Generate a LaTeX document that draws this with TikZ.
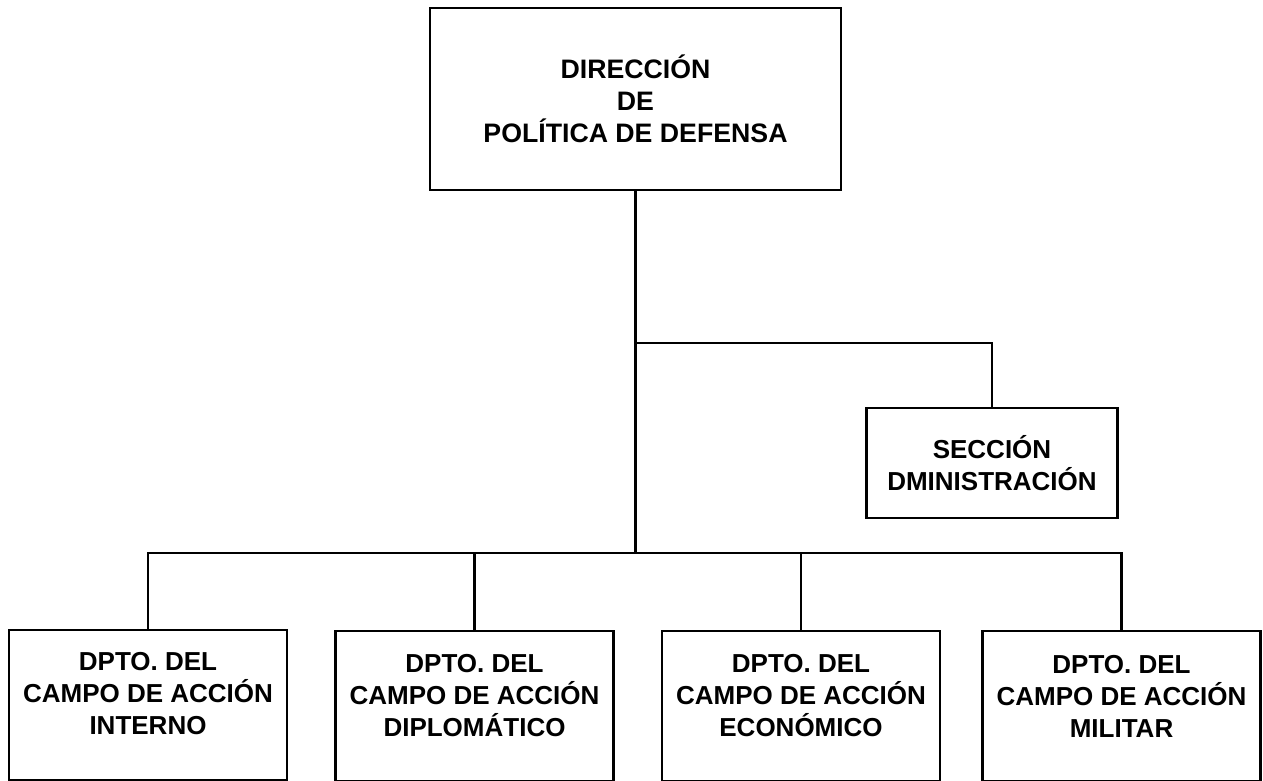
\documentclass[tikz,border=0pt]{standalone}
\usepackage{fontspec}
\setmainfont{Liberation Sans}
\usetikzlibrary{positioning}

\tikzset{
  orgbox/.style={draw,line width=2.8pt,inner sep=0pt,align=center,
    font=\bfseries\fontsize{26}{32}\selectfont},
  dpto/.style={orgbox,minimum width=278pt,minimum height=150pt},
  dptotext/.style={align=center,inner sep=0pt,
    font=\bfseries\fontsize{26}{32}\selectfont},
  link/.style={line width=2.5pt}
}

\begin{document}
\begin{tikzpicture}[x=1pt,y=-1pt]
  \useasboundingbox (0,0) rectangle (1263,781);

  \node [orgbox,minimum width=411pt,minimum height=182pt,
    font=\bfseries\fontsize{26.7}{32}\selectfont] (direccion) at (635.5,99)
    {DIRECCIÓN\\DE\\POLÍTICA DE DEFENSA};
  \node [orgbox,minimum width=251pt,minimum height=110pt] (seccion) at (992,463)
    {SECCIÓN\\DMINISTRACIÓN};

  \node [dpto] (interno) at (148,705) {};
  \node [dpto] (diplo) at (474.5,706) {};
  \node [dpto] (econ) at (801,706) {};
  \node [dpto] (militar) at (1121.5,706) {};

  \node [dptotext] (interno-txt) at ([yshift=11pt]interno.center)
    {DPTO. DEL\\CAMPO DE ACCIÓN\\INTERNO};
  \node [dptotext] (diplo-txt) at ([yshift=10pt]diplo.center)
    {DPTO. DEL\\CAMPO DE ACCIÓN\\DIPLOMÁTICO};
  \node [dptotext] (econ-txt) at ([yshift=10pt]econ.center)
    {DPTO. DEL\\CAMPO DE ACCIÓN\\ECONÓMICO};
  \node [dptotext] (militar-txt) at ([yshift=10pt]militar.center)
    {DPTO. DEL\\CAMPO DE ACCIÓN\\MILITAR};

  % trunk and branches
  \coordinate (branch) at (635.5,343);
  \coordinate (bar) at (635.5,553);
  \draw [link] (direccion.south) -- (bar);
  \draw [link] (branch) -| (seccion.north);
  \draw [link] (interno.north) |- (bar -| militar.north) -- (militar.north);
  \draw [link] (diplo.north) -- (diplo.north |- bar);
  \draw [link] (econ.north) -- (econ.north |- bar);
\end{tikzpicture}
\end{document}
